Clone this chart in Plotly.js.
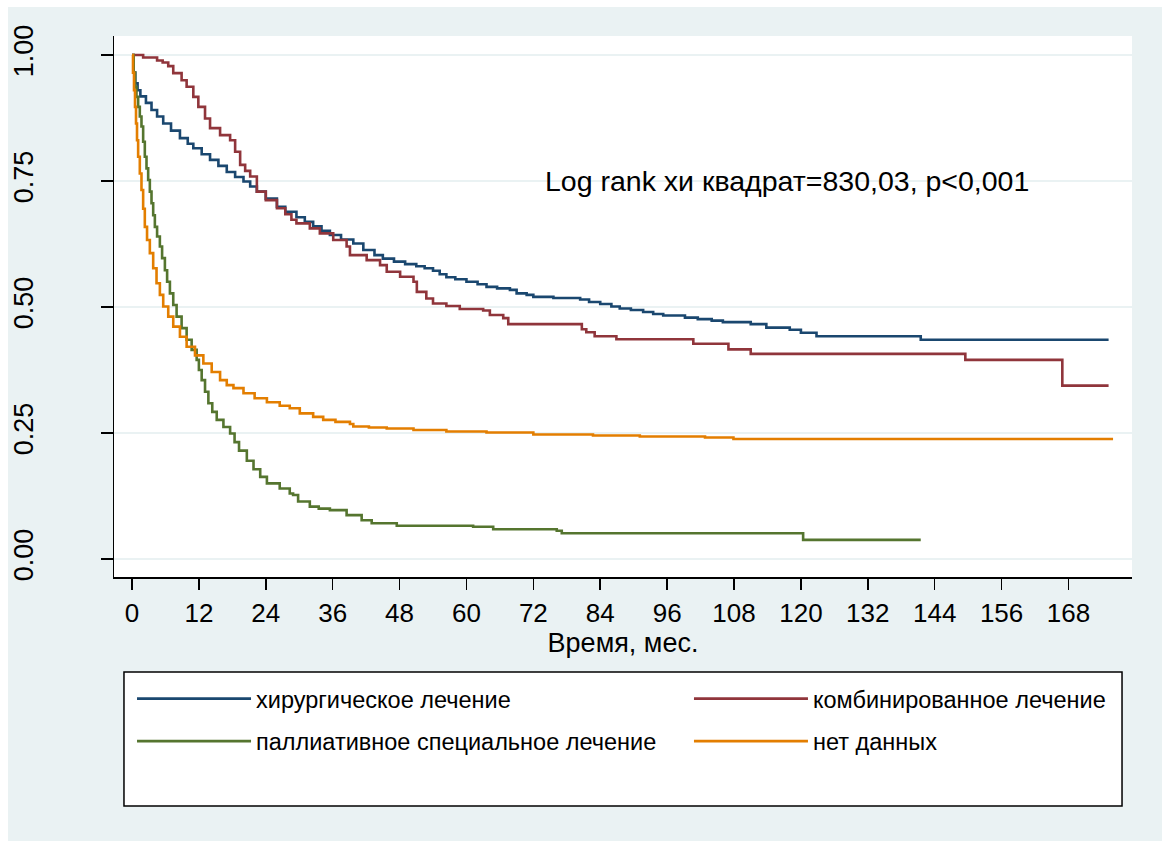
<!DOCTYPE html>
<html>
<head>
<meta charset="utf-8">
<script src="https://cdn.plot.ly/plotly-3.0.1.min.js"></script>
<style>
  html, body { margin: 0; padding: 0; background: #FFFFFF; width: 1162px; height: 841px; overflow: hidden; }
  #chart { position: absolute; left: 8px; top: 7px; width: 1154px; height: 834px; }
</style>
</head>
<body>
<div id="chart"></div>
<script>
// Kaplan-Meier curves (time in months, survival probability)
const seriesNames = [
  'хирургическое лечение',
  'комбинированное лечение',
  'паллиативное специальное лечение',
  'нет данных'
];

const surgT = [0, 0.3, 0.6, 1, 1.5, 2.5, 3.5, 4.5, 5.6, 7, 8.6, 10, 11, 12.5, 14, 15.5, 17, 18.5, 20, 21.2, 22.4, 24, 26, 27.5, 29.5, 31, 32.5, 34, 35.5, 37.5, 39.7, 41.5, 43.5, 45, 47, 49, 51, 52.5, 54, 55.2, 56.4, 58, 60, 62, 63.6, 65.5, 67.8, 69, 70.8, 72, 75.6, 80.4, 82, 84, 86, 87.5, 89.5, 91.7, 93.5, 95.3, 99.2, 101.5, 104, 106, 111, 113.8, 118, 120, 122.8, 141.5, 175.2];
const surgS = [1, 0.965, 0.944, 0.93, 0.918, 0.905, 0.891, 0.878, 0.864, 0.85, 0.835, 0.824, 0.815, 0.803, 0.792, 0.78, 0.768, 0.758, 0.749, 0.739, 0.729, 0.715, 0.699, 0.689, 0.678, 0.669, 0.66, 0.651, 0.643, 0.634, 0.626, 0.613, 0.603, 0.596, 0.59, 0.585, 0.581, 0.577, 0.572, 0.565, 0.559, 0.555, 0.55, 0.545, 0.54, 0.537, 0.534, 0.527, 0.524, 0.52, 0.518, 0.515, 0.51, 0.506, 0.501, 0.497, 0.494, 0.49, 0.486, 0.483, 0.479, 0.476, 0.473, 0.47, 0.466, 0.459, 0.455, 0.449, 0.442, 0.435, 0.435];

const combT = [0, 2, 4.5, 5.5, 6.5, 7.4, 8.9, 9.8, 11, 11.9, 13.1, 14, 15.8, 17.6, 18.5, 19.4, 20.3, 21.2, 22.4, 24, 26, 27.5, 28.6, 29.5, 31.9, 33.7, 36.1, 38.5, 39.1, 42.1, 44.5, 45.7, 48.1, 50.5, 51.1, 52.8, 54, 56.4, 58.8, 63, 64.2, 66.6, 67.5, 80.7, 81.5, 83, 86.9, 100.7, 107, 111, 149.5, 166.9, 175.2];
const combS = [1, 0.995, 0.989, 0.985, 0.978, 0.964, 0.95, 0.937, 0.917, 0.897, 0.874, 0.855, 0.841, 0.831, 0.808, 0.782, 0.77, 0.759, 0.729, 0.712, 0.696, 0.684, 0.673, 0.666, 0.656, 0.646, 0.633, 0.62, 0.603, 0.593, 0.583, 0.57, 0.56, 0.55, 0.53, 0.517, 0.507, 0.502, 0.496, 0.493, 0.484, 0.478, 0.466, 0.456, 0.45, 0.442, 0.436, 0.427, 0.416, 0.407, 0.395, 0.344, 0.344];

const pallT = [0, 0.3, 0.54, 0.8, 1.1, 1.4, 1.7, 2.0, 2.3, 2.6, 2.9, 3.2, 3.5, 3.8, 4.1, 4.5, 5.0, 5.4, 5.9, 6.3, 6.8, 7.4, 8.0, 8.9, 9.8, 10.7, 11.6, 12.0, 12.5, 13.1, 13.7, 14.4, 15.2, 16.4, 17.6, 18.4, 19.2, 20.6, 21.8, 23.0, 24.2, 26.5, 28.3, 28.9, 29.8, 31.9, 33.5, 35.5, 38.5, 41.2, 43, 47.5, 61.2, 64.8, 76.2, 77.1, 120.4, 141.5];
const pallS = [1, 0.965, 0.937, 0.917, 0.897, 0.878, 0.858, 0.828, 0.798, 0.775, 0.752, 0.729, 0.706, 0.682, 0.659, 0.64, 0.62, 0.597, 0.573, 0.55, 0.527, 0.504, 0.481, 0.458, 0.435, 0.415, 0.395, 0.375, 0.355, 0.332, 0.309, 0.292, 0.276, 0.262, 0.249, 0.232, 0.215, 0.195, 0.178, 0.163, 0.15, 0.14, 0.13, 0.127, 0.114, 0.104, 0.1, 0.097, 0.087, 0.077, 0.071, 0.066, 0.064, 0.059, 0.056, 0.051, 0.038, 0.038];

const naT = [0, 0.18, 0.36, 0.54, 0.72, 0.9, 1.1, 1.4, 1.7, 2.0, 2.3, 2.7, 3.2, 3.8, 4.4, 5.0, 5.6, 6.5, 7.4, 8.6, 9.8, 11.3, 12.8, 14.3, 15.8, 17, 18.2, 20, 22, 24.2, 26.5, 28.3, 30.1, 32.5, 34.3, 36.5, 39.1, 39.7, 42.5, 45.7, 50.5, 56.4, 63.6, 72, 82.7, 91.1, 102.8, 107.9, 176];
const naS = [1, 0.965, 0.93, 0.897, 0.864, 0.831, 0.798, 0.765, 0.732, 0.695, 0.659, 0.633, 0.607, 0.577, 0.547, 0.524, 0.501, 0.481, 0.461, 0.441, 0.421, 0.404, 0.388, 0.371, 0.355, 0.345, 0.339, 0.329, 0.319, 0.311, 0.304, 0.299, 0.289, 0.282, 0.276, 0.272, 0.268, 0.263, 0.261, 0.259, 0.256, 0.253, 0.251, 0.247, 0.245, 0.243, 0.241, 0.238, 0.238];

const xTickVals = [0, 12, 24, 36, 48, 60, 72, 84, 96, 108, 120, 132, 144, 156, 168];
const yTickVals = [0, 0.25, 0.5, 0.75, 1];
const yTickText = ['0.00', '0.25', '0.50', '0.75', '1.00'];
const xTitle = 'Время, мес.';
const noteText = 'Log rank хи квадрат=830,03, p<0,001';
const notePos = [73.7, 0.75];

const colors = ['#1A476F', '#90353B', '#55752F', '#E37E00'];
const FONT = 'Liberation Sans, Arial, sans-serif';

function km(t, s, i, legendId) {
  return {
    x: t, y: s, type: 'scatter', mode: 'lines',
    line: { shape: 'hv', color: colors[i], width: 2.6 },
    name: seriesNames[i],
    legend: legendId,
    legendgroup: 'g' + i,
    hoverinfo: 'skip'
  };
}

const data = [
  km(surgT, surgS, 0, 'legend'),
  km(combT, combS, 1, 'legend2'),
  km(pallT, pallS, 2, 'legend'),
  km(naT, naS, 3, 'legend2')
];

const legendCommon = {
  xanchor: 'left', yanchor: 'top',
  bgcolor: 'rgba(0,0,0,0)', borderwidth: 0,
  font: { family: FONT, size: 23.5, color: '#000' },
  itemwidth: 114,
  traceorder: 'grouped',
  tracegroupgap: 9
};

const layout = {
  width: 1154, height: 834,
  margin: { l: 106, r: 30, t: 29, b: 264 },
  paper_bgcolor: '#EAF2F3',
  plot_bgcolor: '#FFFFFF',
  font: { family: FONT, color: '#000' },
  showlegend: true,
  xaxis: {
    range: [-3.23, 179.4],
    tickmode: 'array', tickvals: xTickVals,
    ticks: 'outside', ticklen: 11, tickwidth: 1.5, tickcolor: '#000',
    showline: true, linecolor: '#000', linewidth: 1.5,
    showgrid: false, zeroline: false,
    ticklabelstandoff: 1,
    tickfont: { family: FONT, size: 26, color: '#000' },
    title: { text: xTitle, font: { family: FONT, size: 27, color: '#000' }, standoff: 0 }
  },
  yaxis: {
    range: [-0.0357, 1.0377],
    tickmode: 'array', tickvals: yTickVals, ticktext: yTickText,
    tickangle: -90,
    ticks: 'outside', ticklen: 12, tickwidth: 1.5, tickcolor: '#000',
    showline: true, linecolor: '#000', linewidth: 1.5,
    showgrid: true, gridcolor: '#EAF2F3', gridwidth: 2.5,
    zeroline: false,
    ticklabelstandoff: 57,
    tickfont: { family: FONT, size: 27, color: '#000' }
  },
  legend: Object.assign({ x: 0.0177, y: -0.1845 }, legendCommon),
  legend2: Object.assign({ x: 0.5648, y: -0.1845 }, legendCommon),
  shapes: [{
    type: 'rect', xref: 'paper', yref: 'paper',
    x0: 0.0098, x1: 0.9902, y0: -0.4233, y1: -0.1756,
    line: { color: '#000', width: 1.5 }, fillcolor: '#FFFFFF', layer: 'below'
  }],
  annotations: [{
    x: notePos[0], y: notePos[1], xref: 'x', yref: 'y',
    text: noteText, showarrow: false, xanchor: 'left', yanchor: 'middle',
    font: { family: FONT, size: 28.5, color: '#000' }
  }]
};

Plotly.newPlot('chart', data, layout, { displayModeBar: false, staticPlot: true });
</script>
</body>
</html>
